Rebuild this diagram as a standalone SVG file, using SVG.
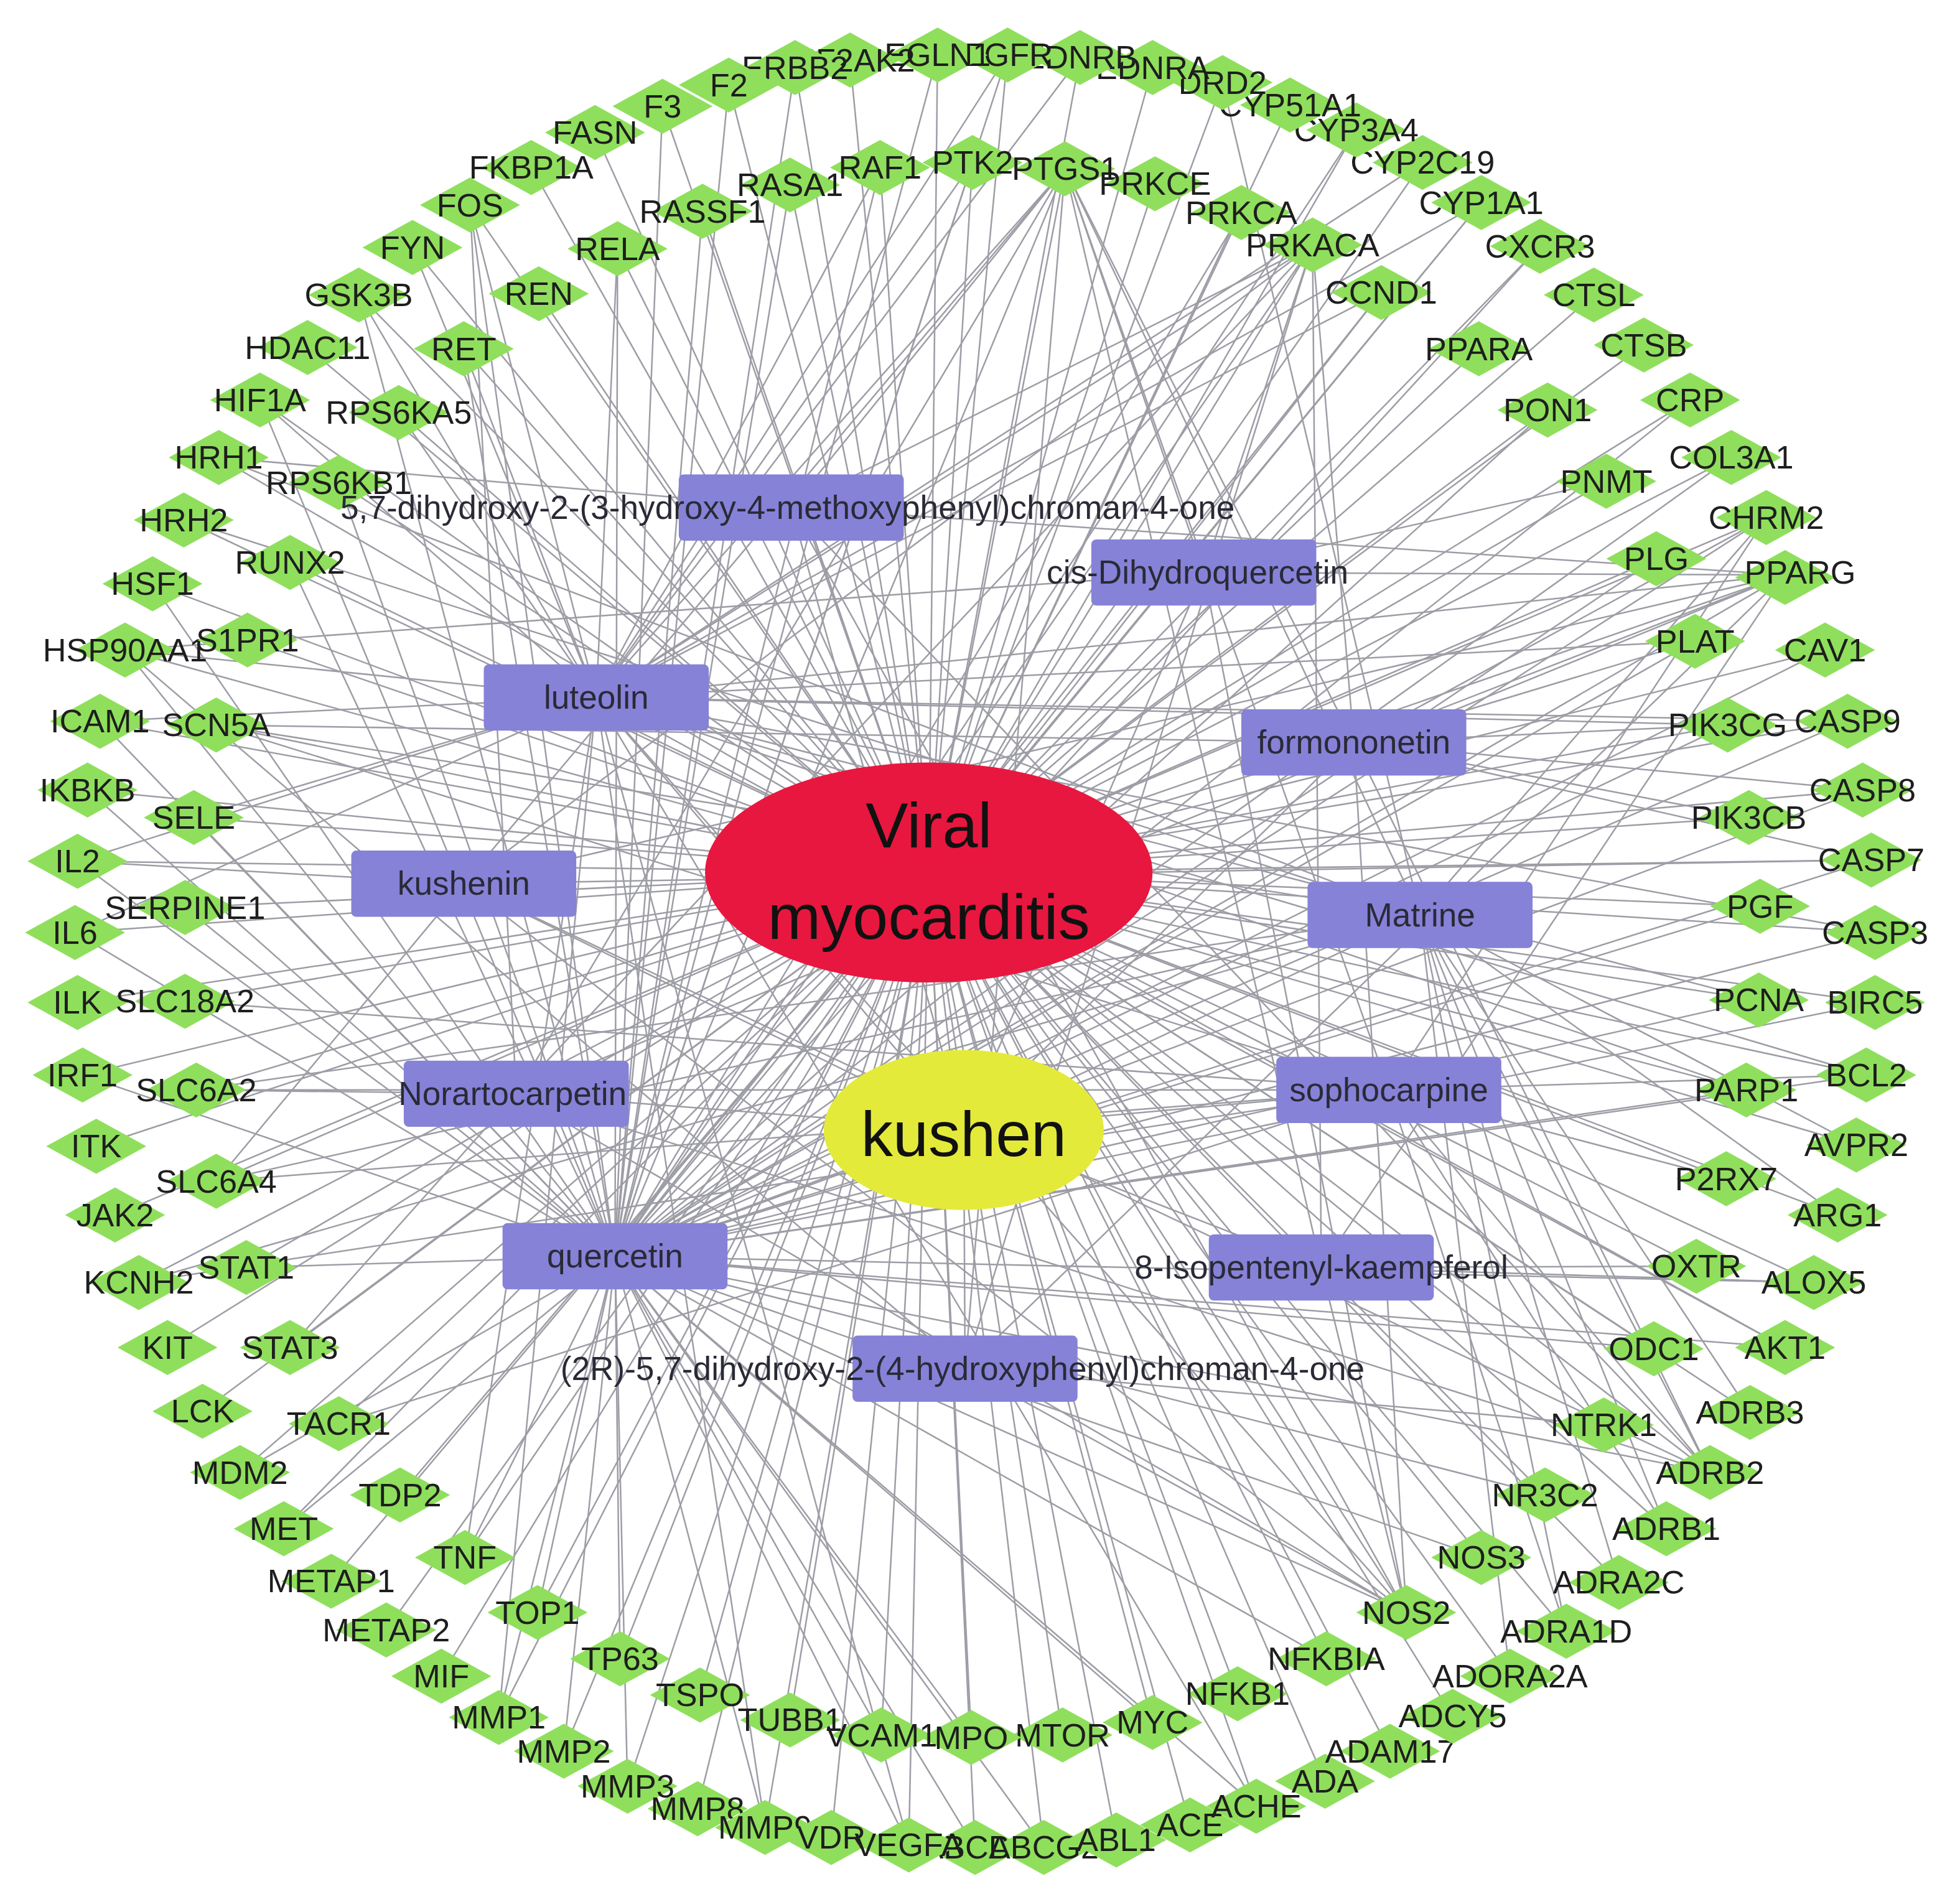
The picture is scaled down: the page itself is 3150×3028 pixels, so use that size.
<svg xmlns="http://www.w3.org/2000/svg" width="3150" height="3028" viewBox="0 0 3150 3028">
<defs>
<style>
.e line{stroke:#9d9da6;stroke-width:1.25}
.t{font-family:"Liberation Sans",Arial,sans-serif;font-size:26px;fill:#1e1e1e;text-anchor:middle}
.ct{font-family:"Liberation Sans",Arial,sans-serif;font-size:26.5px;fill:#2a2a36;text-anchor:middle}
.big{font-family:"Liberation Sans",Arial,sans-serif;font-size:51px;fill:#111;text-anchor:middle}
</style>
<polygon id="dm" points="-40,0 0,-22 40,0 0,22" fill="#8fdf5c"/>
<rect id="cr" x="-90" y="-26.5" width="180" height="53" rx="4" fill="#8682d8"/>
</defs>
<rect width="3150" height="3028" fill="#ffffff"/>
<g transform="scale(2.009)">
<g id="connectors" class="e">
<!-- kushen to compounds -->
<line x1="771" y1="903" x2="633" y2="406"/><line x1="771" y1="903" x2="963" y2="458"/><line x1="771" y1="903" x2="477" y2="558"/><line x1="771" y1="903" x2="1083" y2="594"/><line x1="771" y1="903" x2="371" y2="707"/><line x1="771" y1="903" x2="1136" y2="732"/><line x1="771" y1="903" x2="413" y2="875"/><line x1="771" y1="903" x2="1111" y2="872"/><line x1="771" y1="903" x2="492" y2="1005"/><line x1="771" y1="903" x2="1057" y2="1014"/><line x1="771" y1="903" x2="772" y2="1095"/>
<!-- disease to targets -->
<line x1="743" y1="698" x2="780" y2="1478"/><line x1="743" y1="698" x2="835" y2="1478"/><line x1="743" y1="698" x2="893" y2="1472"/><line x1="743" y1="698" x2="952" y2="1460"/><line x1="743" y1="698" x2="1005" y2="1445"/><line x1="743" y1="698" x2="1060" y2="1425"/><line x1="743" y1="698" x2="1112" y2="1401"/><line x1="743" y1="698" x2="1162" y2="1373"/><line x1="743" y1="698" x2="1208" y2="1341"/><line x1="743" y1="698" x2="1253" y2="1305"/><line x1="743" y1="698" x2="1295" y2="1266"/><line x1="743" y1="698" x2="1333" y2="1223"/><line x1="743" y1="698" x2="1368" y2="1178"/><line x1="743" y1="698" x2="1400" y2="1130"/><line x1="743" y1="698" x2="1428" y2="1078"/><line x1="743" y1="698" x2="1451" y2="1026"/><line x1="743" y1="698" x2="1470" y2="972"/><line x1="743" y1="698" x2="1485" y2="916"/><line x1="743" y1="698" x2="1493" y2="860"/><line x1="743" y1="698" x2="1500" y2="802"/><line x1="743" y1="698" x2="1500" y2="746"/><line x1="743" y1="698" x2="1497" y2="688"/><line x1="743" y1="698" x2="1490" y2="632"/><line x1="743" y1="698" x2="1478" y2="577"/><line x1="743" y1="698" x2="1460" y2="520"/><line x1="743" y1="698" x2="1428" y2="460"/><line x1="743" y1="698" x2="1413" y2="414"/><line x1="743" y1="698" x2="1385" y2="366"/><line x1="743" y1="698" x2="1352" y2="320"/><line x1="743" y1="698" x2="1315" y2="276"/><line x1="743" y1="698" x2="1275" y2="236"/><line x1="743" y1="698" x2="1232" y2="197"/><line x1="743" y1="698" x2="1185" y2="162"/><line x1="743" y1="698" x2="1138" y2="130"/><line x1="743" y1="698" x2="1085" y2="104"/><line x1="743" y1="698" x2="1032" y2="84"/><line x1="743" y1="698" x2="978" y2="66"/><line x1="743" y1="698" x2="922" y2="54"/><line x1="743" y1="698" x2="864" y2="46"/><line x1="743" y1="698" x2="806" y2="44"/><line x1="743" y1="698" x2="750" y2="44"/><line x1="743" y1="698" x2="680" y2="48"/><line x1="743" y1="698" x2="636" y2="54"/><line x1="743" y1="698" x2="583" y2="68"/><line x1="743" y1="698" x2="530" y2="85"/><line x1="743" y1="698" x2="476" y2="106"/><line x1="743" y1="698" x2="425" y2="134"/><line x1="743" y1="698" x2="376" y2="164"/><line x1="743" y1="698" x2="330" y2="198"/><line x1="743" y1="698" x2="287" y2="236"/><line x1="743" y1="698" x2="246" y2="278"/><line x1="743" y1="698" x2="208" y2="320"/><line x1="743" y1="698" x2="175" y2="366"/><line x1="743" y1="698" x2="147" y2="416"/><line x1="743" y1="698" x2="122" y2="467"/><line x1="743" y1="698" x2="100" y2="520"/><line x1="743" y1="698" x2="80" y2="577"/><line x1="743" y1="698" x2="70" y2="632"/><line x1="743" y1="698" x2="62" y2="689"/><line x1="743" y1="698" x2="60" y2="746"/><line x1="743" y1="698" x2="62" y2="802"/><line x1="743" y1="698" x2="66" y2="860"/><line x1="743" y1="698" x2="77" y2="917"/><line x1="743" y1="698" x2="92" y2="972"/><line x1="743" y1="698" x2="111" y2="1026"/><line x1="743" y1="698" x2="134" y2="1078"/><line x1="743" y1="698" x2="162" y2="1129"/><line x1="743" y1="698" x2="192" y2="1178"/><line x1="743" y1="698" x2="227" y2="1223"/><line x1="743" y1="698" x2="265" y2="1265"/><line x1="743" y1="698" x2="309" y2="1304"/><line x1="743" y1="698" x2="353" y2="1341"/><line x1="743" y1="698" x2="399" y2="1374"/><line x1="743" y1="698" x2="451" y2="1401"/><line x1="743" y1="698" x2="502" y2="1429"/><line x1="743" y1="698" x2="558" y2="1447"/><line x1="743" y1="698" x2="612" y2="1462"/><line x1="743" y1="698" x2="665" y2="1470"/><line x1="743" y1="698" x2="727" y2="1476"/>
<line x1="743" y1="698" x2="494" y2="199"/><line x1="743" y1="698" x2="562" y2="169"/><line x1="743" y1="698" x2="632" y2="148"/><line x1="743" y1="698" x2="704" y2="134"/><line x1="743" y1="698" x2="778" y2="130"/><line x1="743" y1="698" x2="852" y2="135"/><line x1="743" y1="698" x2="924" y2="147"/><line x1="743" y1="698" x2="993" y2="170"/><line x1="743" y1="698" x2="1050" y2="196"/><line x1="743" y1="698" x2="1105" y2="234"/><line x1="743" y1="698" x2="1183" y2="279"/><line x1="743" y1="698" x2="1238" y2="328"/><line x1="743" y1="698" x2="1285" y2="385"/><line x1="743" y1="698" x2="1325" y2="447"/><line x1="743" y1="698" x2="1356" y2="513"/><line x1="743" y1="698" x2="1382" y2="580"/><line x1="743" y1="698" x2="1399" y2="654"/><line x1="743" y1="698" x2="1408" y2="725"/><line x1="743" y1="698" x2="1407" y2="800"/><line x1="743" y1="698" x2="1397" y2="872"/><line x1="743" y1="698" x2="1381" y2="943"/><line x1="743" y1="698" x2="1357" y2="1013"/><line x1="743" y1="698" x2="1323" y2="1079"/><line x1="743" y1="698" x2="1283" y2="1140"/><line x1="743" y1="698" x2="1236" y2="1196"/><line x1="743" y1="698" x2="1185" y2="1246"/><line x1="743" y1="698" x2="1125" y2="1290"/><line x1="743" y1="698" x2="1061" y2="1327"/><line x1="743" y1="698" x2="990" y2="1355"/><line x1="743" y1="698" x2="922" y2="1378"/><line x1="743" y1="698" x2="850" y2="1388"/><line x1="743" y1="698" x2="777" y2="1390"/><line x1="743" y1="698" x2="705" y2="1388"/><line x1="743" y1="698" x2="632" y2="1376"/><line x1="743" y1="698" x2="560" y2="1356"/><line x1="743" y1="698" x2="496" y2="1327"/><line x1="743" y1="698" x2="430" y2="1290"/><line x1="743" y1="698" x2="372" y2="1246"/><line x1="743" y1="698" x2="320" y2="1196"/><line x1="743" y1="698" x2="271" y2="1139"/><line x1="743" y1="698" x2="232" y2="1078"/><line x1="743" y1="698" x2="197" y2="1014"/><line x1="743" y1="698" x2="173" y2="945"/><line x1="743" y1="698" x2="157" y2="872"/><line x1="743" y1="698" x2="148" y2="801"/><line x1="743" y1="698" x2="148" y2="726"/><line x1="743" y1="698" x2="155" y2="654"/><line x1="743" y1="698" x2="173" y2="580"/><line x1="743" y1="698" x2="198" y2="512"/><line x1="743" y1="698" x2="232" y2="450"/><line x1="743" y1="698" x2="271" y2="386"/><line x1="743" y1="698" x2="319" y2="330"/><line x1="743" y1="698" x2="371" y2="279"/><line x1="743" y1="698" x2="431" y2="235"/>
<!-- quercetin -->
<line x1="492" y1="1005" x2="494" y2="199"/><line x1="492" y1="1005" x2="562" y2="169"/><line x1="492" y1="1005" x2="632" y2="148"/><line x1="492" y1="1005" x2="704" y2="134"/><line x1="492" y1="1005" x2="778" y2="130"/><line x1="492" y1="1005" x2="852" y2="135"/><line x1="492" y1="1005" x2="993" y2="170"/><line x1="492" y1="1005" x2="1050" y2="196"/><line x1="492" y1="1005" x2="1105" y2="234"/><line x1="492" y1="1005" x2="1238" y2="328"/><line x1="492" y1="1005" x2="1356" y2="513"/><line x1="492" y1="1005" x2="1325" y2="447"/><line x1="492" y1="1005" x2="1382" y2="580"/><line x1="492" y1="1005" x2="1408" y2="725"/><line x1="492" y1="1005" x2="1407" y2="800"/><line x1="492" y1="1005" x2="1397" y2="872"/><line x1="492" y1="1005" x2="1323" y2="1079"/><line x1="492" y1="1005" x2="1185" y2="1246"/><line x1="492" y1="1005" x2="1125" y2="1290"/><line x1="492" y1="1005" x2="1061" y2="1327"/><line x1="492" y1="1005" x2="922" y2="1378"/><line x1="492" y1="1005" x2="777" y2="1390"/><line x1="492" y1="1005" x2="705" y2="1388"/><line x1="492" y1="1005" x2="430" y2="1290"/><line x1="492" y1="1005" x2="372" y2="1246"/><line x1="492" y1="1005" x2="496" y2="1327"/><line x1="492" y1="1005" x2="197" y2="1014"/><line x1="492" y1="1005" x2="155" y2="654"/><line x1="492" y1="1005" x2="148" y2="726"/><line x1="492" y1="1005" x2="232" y2="450"/><line x1="492" y1="1005" x2="271" y2="386"/><line x1="492" y1="1005" x2="371" y2="279"/><line x1="492" y1="1005" x2="399" y2="1374"/><line x1="492" y1="1005" x2="451" y2="1401"/><line x1="492" y1="1005" x2="502" y2="1429"/><line x1="492" y1="1005" x2="612" y2="1462"/><line x1="492" y1="1005" x2="227" y2="1223"/><line x1="492" y1="1005" x2="192" y2="1178"/><line x1="492" y1="1005" x2="62" y2="689"/><line x1="492" y1="1005" x2="60" y2="746"/><line x1="492" y1="1005" x2="80" y2="577"/><line x1="492" y1="1005" x2="70" y2="632"/><line x1="492" y1="1005" x2="66" y2="860"/><line x1="492" y1="1005" x2="208" y2="320"/><line x1="492" y1="1005" x2="122" y2="467"/><line x1="492" y1="1005" x2="287" y2="236"/><line x1="492" y1="1005" x2="376" y2="164"/><line x1="492" y1="1005" x2="530" y2="85"/><line x1="492" y1="1005" x2="583" y2="68"/><line x1="492" y1="1005" x2="636" y2="54"/><line x1="492" y1="1005" x2="806" y2="44"/><line x1="492" y1="1005" x2="1185" y2="162"/><line x1="492" y1="1005" x2="1085" y2="104"/><line x1="492" y1="1005" x2="1232" y2="197"/><line x1="492" y1="1005" x2="1352" y2="320"/><line x1="492" y1="1005" x2="1385" y2="366"/><line x1="492" y1="1005" x2="1500" y2="746"/><line x1="492" y1="1005" x2="1497" y2="688"/><line x1="492" y1="1005" x2="1490" y2="632"/><line x1="492" y1="1005" x2="1478" y2="577"/><line x1="492" y1="1005" x2="1460" y2="520"/><line x1="492" y1="1005" x2="1493" y2="860"/><line x1="492" y1="1005" x2="1500" y2="802"/><line x1="492" y1="1005" x2="1428" y2="1078"/><line x1="492" y1="1005" x2="1451" y2="1026"/><line x1="492" y1="1005" x2="1005" y2="1445"/><line x1="492" y1="1005" x2="835" y2="1478"/><line x1="492" y1="1005" x2="727" y2="1476"/><line x1="492" y1="1005" x2="1428" y2="460"/><line x1="492" y1="1005" x2="1413" y2="414"/><line x1="492" y1="1005" x2="1368" y2="1178"/><line x1="492" y1="1005" x2="1236" y2="1196"/><line x1="492" y1="1005" x2="100" y2="520"/><line x1="492" y1="1005" x2="750" y2="44"/><line x1="492" y1="1005" x2="780" y2="1478"/>
<!-- luteolin -->
<line x1="477" y1="558" x2="852" y2="135"/><line x1="477" y1="558" x2="1428" y2="460"/><line x1="477" y1="558" x2="494" y2="199"/><line x1="477" y1="558" x2="60" y2="746"/><line x1="477" y1="558" x2="372" y2="1246"/><line x1="477" y1="558" x2="727" y2="1476"/><line x1="477" y1="558" x2="612" y2="1462"/><line x1="477" y1="558" x2="399" y2="1374"/><line x1="477" y1="558" x2="80" y2="577"/><line x1="477" y1="558" x2="1428" y2="1078"/><line x1="477" y1="558" x2="1500" y2="746"/><line x1="477" y1="558" x2="1478" y2="577"/><line x1="477" y1="558" x2="1493" y2="860"/><line x1="477" y1="558" x2="1005" y2="1445"/><line x1="477" y1="558" x2="1185" y2="162"/><line x1="477" y1="558" x2="100" y2="520"/><line x1="477" y1="558" x2="1382" y2="580"/><line x1="477" y1="558" x2="1050" y2="196"/><line x1="477" y1="558" x2="1125" y2="1290"/><line x1="477" y1="558" x2="1105" y2="234"/><line x1="477" y1="558" x2="806" y2="44"/><line x1="477" y1="558" x2="376" y2="164"/><line x1="477" y1="558" x2="287" y2="236"/><line x1="477" y1="558" x2="371" y2="279"/><line x1="477" y1="558" x2="208" y2="320"/><line x1="477" y1="558" x2="319" y2="330"/><line x1="477" y1="558" x2="155" y2="654"/><line x1="477" y1="558" x2="62" y2="689"/><line x1="477" y1="558" x2="1356" y2="513"/><line x1="477" y1="558" x2="1407" y2="800"/><line x1="477" y1="558" x2="1397" y2="872"/><line x1="477" y1="558" x2="778" y2="130"/><line x1="477" y1="558" x2="704" y2="134"/><line x1="477" y1="558" x2="864" y2="46"/><line x1="477" y1="558" x2="1138" y2="130"/><line x1="477" y1="558" x2="330" y2="198"/>
<!-- Matrine -->
<line x1="1136" y1="732" x2="1413" y2="414"/><line x1="1136" y1="732" x2="1333" y2="1223"/><line x1="1136" y1="732" x2="1368" y2="1178"/><line x1="1136" y1="732" x2="1253" y2="1305"/><line x1="1136" y1="732" x2="1295" y2="1266"/><line x1="1136" y1="732" x2="175" y2="366"/><line x1="1136" y1="732" x2="147" y2="416"/><line x1="1136" y1="732" x2="173" y2="580"/><line x1="1136" y1="732" x2="111" y2="1026"/><line x1="1136" y1="732" x2="157" y2="872"/><line x1="1136" y1="732" x2="173" y2="945"/><line x1="1136" y1="732" x2="978" y2="66"/><line x1="1136" y1="732" x2="852" y2="135"/><line x1="1136" y1="732" x2="1485" y2="916"/><line x1="1136" y1="732" x2="1208" y2="1341"/><line x1="1136" y1="732" x2="1400" y2="1130"/><line x1="1136" y1="732" x2="1470" y2="972"/>
<!-- sophocarpine -->
<line x1="1111" y1="872" x2="1413" y2="414"/><line x1="1111" y1="872" x2="1368" y2="1178"/><line x1="1111" y1="872" x2="1253" y2="1305"/><line x1="1111" y1="872" x2="173" y2="580"/><line x1="1111" y1="872" x2="111" y2="1026"/><line x1="1111" y1="872" x2="173" y2="945"/><line x1="1111" y1="872" x2="157" y2="872"/><line x1="1111" y1="872" x2="852" y2="135"/><line x1="1111" y1="872" x2="148" y2="801"/><line x1="1111" y1="872" x2="1333" y2="1223"/><line x1="1111" y1="872" x2="271" y2="1139"/><line x1="1111" y1="872" x2="1381" y2="943"/><line x1="1111" y1="872" x2="1493" y2="860"/>
<!-- formononetin -->
<line x1="1083" y1="594" x2="852" y2="135"/><line x1="1083" y1="594" x2="1428" y2="460"/><line x1="1083" y1="594" x2="1050" y2="196"/><line x1="1083" y1="594" x2="1125" y2="1290"/><line x1="1083" y1="594" x2="1368" y2="1178"/><line x1="1083" y1="594" x2="1413" y2="414"/><line x1="1083" y1="594" x2="1382" y2="580"/><line x1="1083" y1="594" x2="173" y2="580"/><line x1="1083" y1="594" x2="1497" y2="688"/><line x1="1083" y1="594" x2="1399" y2="654"/><line x1="1083" y1="594" x2="1490" y2="632"/>
<!-- kushenin -->
<line x1="371" y1="707" x2="852" y2="135"/><line x1="371" y1="707" x2="1428" y2="460"/><line x1="371" y1="707" x2="1050" y2="196"/><line x1="371" y1="707" x2="1125" y2="1290"/><line x1="371" y1="707" x2="1368" y2="1178"/><line x1="371" y1="707" x2="173" y2="945"/><line x1="371" y1="707" x2="62" y2="689"/><line x1="371" y1="707" x2="1497" y2="688"/>
<!-- Norartocarpetin -->
<line x1="413" y1="875" x2="852" y2="135"/><line x1="413" y1="875" x2="1428" y2="460"/><line x1="413" y1="875" x2="1125" y2="1290"/><line x1="413" y1="875" x2="1050" y2="196"/><line x1="413" y1="875" x2="376" y2="164"/><line x1="413" y1="875" x2="1368" y2="1178"/><line x1="413" y1="875" x2="157" y2="872"/><line x1="413" y1="875" x2="232" y2="1078"/>
<!-- 5,7-dihydroxy-2-(3-hydroxy-4-methoxyphenyl)chroman-4-one -->
<line x1="633" y1="406" x2="852" y2="135"/><line x1="633" y1="406" x2="1428" y2="460"/><line x1="633" y1="406" x2="1050" y2="196"/><line x1="633" y1="406" x2="1125" y2="1290"/><line x1="633" y1="406" x2="1368" y2="1178"/><line x1="633" y1="406" x2="175" y2="366"/>
<!-- cis-Dihydroquercetin -->
<line x1="963" y1="458" x2="852" y2="135"/><line x1="963" y1="458" x2="1428" y2="460"/><line x1="963" y1="458" x2="1125" y2="1290"/><line x1="963" y1="458" x2="1050" y2="196"/><line x1="963" y1="458" x2="100" y2="520"/><line x1="963" y1="458" x2="1285" y2="385"/>
<!-- 8-Isopentenyl-kaempferol -->
<line x1="1057" y1="1014" x2="852" y2="135"/><line x1="1057" y1="1014" x2="1428" y2="460"/><line x1="1057" y1="1014" x2="1050" y2="196"/><line x1="1057" y1="1014" x2="1125" y2="1290"/><line x1="1057" y1="1014" x2="1451" y2="1026"/><line x1="1057" y1="1014" x2="1357" y2="1013"/>
<!-- (2R)-5,7-dihydroxy-2-(4-hydroxyphenyl)chroman-4-one -->
<line x1="772" y1="1095" x2="852" y2="135"/><line x1="772" y1="1095" x2="1428" y2="460"/><line x1="772" y1="1095" x2="1050" y2="196"/><line x1="772" y1="1095" x2="1125" y2="1290"/><line x1="772" y1="1095" x2="100" y2="520"/><line x1="772" y1="1095" x2="1283" y2="1140"/>
</g>
<g id="targets">
<g id="n-ABCB1"><use href="#dm" x="780" y="1478"/><text class="t" x="780" y="1487">ABCB1</text></g>
<g id="n-ABCG2"><use href="#dm" x="835" y="1478"/><text class="t" x="835" y="1487">ABCG2</text></g>
<g id="n-ABL1"><use href="#dm" x="893" y="1472"/><text class="t" x="893" y="1481">ABL1</text></g>
<g id="n-ACE"><use href="#dm" x="952" y="1460"/><text class="t" x="952" y="1469">ACE</text></g>
<g id="n-ACHE"><use href="#dm" x="1005" y="1445"/><text class="t" x="1005" y="1454">ACHE</text></g>
<g id="n-ADA"><use href="#dm" x="1060" y="1425"/><text class="t" x="1060" y="1434">ADA</text></g>
<g id="n-ADAM17"><use href="#dm" x="1112" y="1401"/><text class="t" x="1112" y="1410">ADAM17</text></g>
<g id="n-ADCY5"><use href="#dm" x="1162" y="1373"/><text class="t" x="1162" y="1382">ADCY5</text></g>
<g id="n-ADORA2A"><use href="#dm" x="1208" y="1341"/><text class="t" x="1208" y="1350">ADORA2A</text></g>
<g id="n-ADRA1D"><use href="#dm" x="1253" y="1305"/><text class="t" x="1253" y="1314">ADRA1D</text></g>
<g id="n-ADRA2C"><use href="#dm" x="1295" y="1266"/><text class="t" x="1295" y="1275">ADRA2C</text></g>
<g id="n-ADRB1"><use href="#dm" x="1333" y="1223"/><text class="t" x="1333" y="1232">ADRB1</text></g>
<g id="n-ADRB2"><use href="#dm" x="1368" y="1178"/><text class="t" x="1368" y="1187">ADRB2</text></g>
<g id="n-ADRB3"><use href="#dm" x="1400" y="1130"/><text class="t" x="1400" y="1139">ADRB3</text></g>
<g id="n-AKT1"><use href="#dm" x="1428" y="1078"/><text class="t" x="1428" y="1087">AKT1</text></g>
<g id="n-ALOX5"><use href="#dm" x="1451" y="1026"/><text class="t" x="1451" y="1035">ALOX5</text></g>
<g id="n-ARG1"><use href="#dm" x="1470" y="972"/><text class="t" x="1470" y="981">ARG1</text></g>
<g id="n-AVPR2"><use href="#dm" x="1485" y="916"/><text class="t" x="1485" y="925">AVPR2</text></g>
<g id="n-BCL2"><use href="#dm" x="1493" y="860"/><text class="t" x="1493" y="869">BCL2</text></g>
<g id="n-BIRC5"><use href="#dm" x="1500" y="802"/><text class="t" x="1500" y="811">BIRC5</text></g>
<g id="n-CASP3"><use href="#dm" x="1500" y="746"/><text class="t" x="1500" y="755">CASP3</text></g>
<g id="n-CASP7"><use href="#dm" x="1497" y="688"/><text class="t" x="1497" y="697">CASP7</text></g>
<g id="n-CASP8"><use href="#dm" x="1490" y="632"/><text class="t" x="1490" y="641">CASP8</text></g>
<g id="n-CASP9"><use href="#dm" x="1478" y="577"/><text class="t" x="1478" y="586">CASP9</text></g>
<g id="n-CAV1"><use href="#dm" x="1460" y="520"/><text class="t" x="1460" y="529">CAV1</text></g>
<g id="n-PPARG"><use href="#dm" x="1428" y="462"/><text class="t" x="1440" y="467">PPARG</text></g>
<g id="n-CHRM2"><use href="#dm" x="1413" y="414"/><text class="t" x="1413" y="423">CHRM2</text></g>
<g id="n-COL3A1"><use href="#dm" x="1385" y="366"/><text class="t" x="1385" y="375">COL3A1</text></g>
<g id="n-CRP"><use href="#dm" x="1352" y="320"/><text class="t" x="1352" y="329">CRP</text></g>
<g id="n-CTSB"><use href="#dm" x="1315" y="276"/><text class="t" x="1315" y="285">CTSB</text></g>
<g id="n-CTSL"><use href="#dm" x="1275" y="236"/><text class="t" x="1275" y="245">CTSL</text></g>
<g id="n-CXCR3"><use href="#dm" x="1232" y="197"/><text class="t" x="1232" y="206">CXCR3</text></g>
<g id="n-CYP1A1"><use href="#dm" x="1185" y="162"/><text class="t" x="1185" y="171">CYP1A1</text></g>
<g id="n-CYP2C19"><use href="#dm" x="1138" y="130"/><text class="t" x="1138" y="139">CYP2C19</text></g>
<g id="n-CYP3A4"><use href="#dm" x="1085" y="104"/><text class="t" x="1085" y="113">CYP3A4</text></g>
<g id="n-CYP51A1"><use href="#dm" x="1032" y="84"/><text class="t" x="1032" y="93">CYP51A1</text></g>
<g id="n-DRD2"><use href="#dm" x="978" y="66"/><text class="t" x="978" y="75">DRD2</text></g>
<g id="n-EDNRA"><use href="#dm" x="922" y="54"/><text class="t" x="922" y="63">EDNRA</text></g>
<g id="n-EDNRB"><use href="#dm" x="864" y="46"/><text class="t" x="864" y="55">EDNRB</text></g>
<g id="n-EGFR"><use href="#dm" x="806" y="44"/><text class="t" x="806" y="53">EGFR</text></g>
<g id="n-EGLN1"><use href="#dm" x="750" y="44"/><text class="t" x="750" y="53">EGLN1</text></g>
<g id="n-EIF2AK2"><use href="#dm" x="680" y="48"/><text class="t" x="680" y="57">EIF2AK2</text></g>
<g id="n-ERBB2"><use href="#dm" x="636" y="54"/><text class="t" x="636" y="63">ERBB2</text></g>
<g id="n-F2"><use href="#dm" x="583" y="68"/><text class="t" x="583" y="77">F2</text></g>
<g id="n-F3"><use href="#dm" x="530" y="85"/><text class="t" x="530" y="94">F3</text></g>
<g id="n-FASN"><use href="#dm" x="476" y="106"/><text class="t" x="476" y="115">FASN</text></g>
<g id="n-FKBP1A"><use href="#dm" x="425" y="134"/><text class="t" x="425" y="143">FKBP1A</text></g>
<g id="n-FOS"><use href="#dm" x="376" y="164"/><text class="t" x="376" y="173">FOS</text></g>
<g id="n-FYN"><use href="#dm" x="330" y="198"/><text class="t" x="330" y="207">FYN</text></g>
<g id="n-GSK3B"><use href="#dm" x="287" y="236"/><text class="t" x="287" y="245">GSK3B</text></g>
<g id="n-HDAC11"><use href="#dm" x="246" y="278"/><text class="t" x="246" y="287">HDAC11</text></g>
<g id="n-HIF1A"><use href="#dm" x="208" y="320"/><text class="t" x="208" y="329">HIF1A</text></g>
<g id="n-HRH1"><use href="#dm" x="175" y="366"/><text class="t" x="175" y="375">HRH1</text></g>
<g id="n-HRH2"><use href="#dm" x="147" y="416"/><text class="t" x="147" y="425">HRH2</text></g>
<g id="n-HSF1"><use href="#dm" x="122" y="467"/><text class="t" x="122" y="476">HSF1</text></g>
<g id="n-HSP90AA1"><use href="#dm" x="100" y="520"/><text class="t" x="100" y="529">HSP90AA1</text></g>
<g id="n-ICAM1"><use href="#dm" x="80" y="577"/><text class="t" x="80" y="586">ICAM1</text></g>
<g id="n-IKBKB"><use href="#dm" x="70" y="632"/><text class="t" x="70" y="641">IKBKB</text></g>
<g id="n-IL2"><use href="#dm" x="62" y="689"/><text class="t" x="62" y="698">IL2</text></g>
<g id="n-IL6"><use href="#dm" x="60" y="746"/><text class="t" x="60" y="755">IL6</text></g>
<g id="n-ILK"><use href="#dm" x="62" y="802"/><text class="t" x="62" y="811">ILK</text></g>
<g id="n-IRF1"><use href="#dm" x="66" y="860"/><text class="t" x="66" y="869">IRF1</text></g>
<g id="n-ITK"><use href="#dm" x="77" y="917"/><text class="t" x="77" y="926">ITK</text></g>
<g id="n-JAK2"><use href="#dm" x="92" y="972"/><text class="t" x="92" y="981">JAK2</text></g>
<g id="n-KCNH2"><use href="#dm" x="111" y="1026"/><text class="t" x="111" y="1035">KCNH2</text></g>
<g id="n-KIT"><use href="#dm" x="134" y="1078"/><text class="t" x="134" y="1087">KIT</text></g>
<g id="n-LCK"><use href="#dm" x="162" y="1129"/><text class="t" x="162" y="1138">LCK</text></g>
<g id="n-MDM2"><use href="#dm" x="192" y="1178"/><text class="t" x="192" y="1187">MDM2</text></g>
<g id="n-MET"><use href="#dm" x="227" y="1223"/><text class="t" x="227" y="1232">MET</text></g>
<g id="n-METAP1"><use href="#dm" x="265" y="1265"/><text class="t" x="265" y="1274">METAP1</text></g>
<g id="n-METAP2"><use href="#dm" x="309" y="1304"/><text class="t" x="309" y="1313">METAP2</text></g>
<g id="n-MIF"><use href="#dm" x="353" y="1341"/><text class="t" x="353" y="1350">MIF</text></g>
<g id="n-MMP1"><use href="#dm" x="399" y="1374"/><text class="t" x="399" y="1383">MMP1</text></g>
<g id="n-MMP2"><use href="#dm" x="451" y="1401"/><text class="t" x="451" y="1410">MMP2</text></g>
<g id="n-MMP3"><use href="#dm" x="502" y="1429"/><text class="t" x="502" y="1438">MMP3</text></g>
<g id="n-MMP8"><use href="#dm" x="558" y="1447"/><text class="t" x="558" y="1456">MMP8</text></g>
<g id="n-MMP9"><use href="#dm" x="612" y="1462"/><text class="t" x="612" y="1471">MMP9</text></g>
<g id="n-VDR"><use href="#dm" x="665" y="1470"/><text class="t" x="665" y="1479">VDR</text></g>
<g id="n-VEGFA"><use href="#dm" x="727" y="1476"/><text class="t" x="727" y="1485">VEGFA</text></g>
<g id="n-RELA"><use href="#dm" x="494" y="199"/><text class="t" x="494" y="208">RELA</text></g>
<g id="n-RASSF1"><use href="#dm" x="562" y="169"/><text class="t" x="562" y="178">RASSF1</text></g>
<g id="n-RASA1"><use href="#dm" x="632" y="148"/><text class="t" x="632" y="157">RASA1</text></g>
<g id="n-RAF1"><use href="#dm" x="704" y="134"/><text class="t" x="704" y="143">RAF1</text></g>
<g id="n-PTK2"><use href="#dm" x="778" y="130"/><text class="t" x="778" y="139">PTK2</text></g>
<g id="n-PTGS1"><use href="#dm" x="852" y="135"/><text class="t" x="852" y="144">PTGS1</text></g>
<g id="n-PRKCE"><use href="#dm" x="924" y="147"/><text class="t" x="924" y="156">PRKCE</text></g>
<g id="n-PRKCA"><use href="#dm" x="993" y="170"/><text class="t" x="993" y="179">PRKCA</text></g>
<g id="n-PRKACA"><use href="#dm" x="1050" y="196"/><text class="t" x="1050" y="205">PRKACA</text></g>
<g id="n-CCND1"><use href="#dm" x="1105" y="234"/><text class="t" x="1105" y="243">CCND1</text></g>
<g id="n-PPARA"><use href="#dm" x="1183" y="279"/><text class="t" x="1183" y="288">PPARA</text></g>
<g id="n-PON1"><use href="#dm" x="1238" y="328"/><text class="t" x="1238" y="337">PON1</text></g>
<g id="n-PNMT"><use href="#dm" x="1285" y="385"/><text class="t" x="1285" y="394">PNMT</text></g>
<g id="n-PLG"><use href="#dm" x="1325" y="447"/><text class="t" x="1325" y="456">PLG</text></g>
<g id="n-PLAT"><use href="#dm" x="1356" y="513"/><text class="t" x="1356" y="522">PLAT</text></g>
<g id="n-PIK3CG"><use href="#dm" x="1382" y="580"/><text class="t" x="1382" y="589">PIK3CG</text></g>
<g id="n-PIK3CB"><use href="#dm" x="1399" y="654"/><text class="t" x="1399" y="663">PIK3CB</text></g>
<g id="n-PGF"><use href="#dm" x="1408" y="725"/><text class="t" x="1408" y="734">PGF</text></g>
<g id="n-PCNA"><use href="#dm" x="1407" y="800"/><text class="t" x="1407" y="809">PCNA</text></g>
<g id="n-PARP1"><use href="#dm" x="1397" y="872"/><text class="t" x="1397" y="881">PARP1</text></g>
<g id="n-P2RX7"><use href="#dm" x="1381" y="943"/><text class="t" x="1381" y="952">P2RX7</text></g>
<g id="n-OXTR"><use href="#dm" x="1357" y="1013"/><text class="t" x="1357" y="1022">OXTR</text></g>
<g id="n-ODC1"><use href="#dm" x="1323" y="1079"/><text class="t" x="1323" y="1088">ODC1</text></g>
<g id="n-NTRK1"><use href="#dm" x="1283" y="1140"/><text class="t" x="1283" y="1149">NTRK1</text></g>
<g id="n-NR3C2"><use href="#dm" x="1236" y="1196"/><text class="t" x="1236" y="1205">NR3C2</text></g>
<g id="n-NOS3"><use href="#dm" x="1185" y="1246"/><text class="t" x="1185" y="1255">NOS3</text></g>
<g id="n-NOS2"><use href="#dm" x="1125" y="1290"/><text class="t" x="1125" y="1299">NOS2</text></g>
<g id="n-NFKBIA"><use href="#dm" x="1061" y="1327"/><text class="t" x="1061" y="1336">NFKBIA</text></g>
<g id="n-NFKB1"><use href="#dm" x="990" y="1355"/><text class="t" x="990" y="1364">NFKB1</text></g>
<g id="n-MYC"><use href="#dm" x="922" y="1378"/><text class="t" x="922" y="1387">MYC</text></g>
<g id="n-MTOR"><use href="#dm" x="850" y="1388"/><text class="t" x="850" y="1397">MTOR</text></g>
<g id="n-MPO"><use href="#dm" x="777" y="1390"/><text class="t" x="777" y="1399">MPO</text></g>
<g id="n-VCAM1"><use href="#dm" x="705" y="1388"/><text class="t" x="705" y="1397">VCAM1</text></g>
<g id="n-TUBB1"><use href="#dm" x="632" y="1376"/><text class="t" x="632" y="1385">TUBB1</text></g>
<g id="n-TSPO"><use href="#dm" x="560" y="1356"/><text class="t" x="560" y="1365">TSPO</text></g>
<g id="n-TP63"><use href="#dm" x="496" y="1327"/><text class="t" x="496" y="1336">TP63</text></g>
<g id="n-TOP1"><use href="#dm" x="430" y="1290"/><text class="t" x="430" y="1299">TOP1</text></g>
<g id="n-TNF"><use href="#dm" x="372" y="1246"/><text class="t" x="372" y="1255">TNF</text></g>
<g id="n-TDP2"><use href="#dm" x="320" y="1196"/><text class="t" x="320" y="1205">TDP2</text></g>
<g id="n-TACR1"><use href="#dm" x="271" y="1139"/><text class="t" x="271" y="1148">TACR1</text></g>
<g id="n-STAT3"><use href="#dm" x="232" y="1078"/><text class="t" x="232" y="1087">STAT3</text></g>
<g id="n-STAT1"><use href="#dm" x="197" y="1014"/><text class="t" x="197" y="1023">STAT1</text></g>
<g id="n-SLC6A4"><use href="#dm" x="173" y="945"/><text class="t" x="173" y="954">SLC6A4</text></g>
<g id="n-SLC6A2"><use href="#dm" x="157" y="872"/><text class="t" x="157" y="881">SLC6A2</text></g>
<g id="n-SLC18A2"><use href="#dm" x="148" y="801"/><text class="t" x="148" y="810">SLC18A2</text></g>
<g id="n-SERPINE1"><use href="#dm" x="148" y="726"/><text class="t" x="148" y="735">SERPINE1</text></g>
<g id="n-SELE"><use href="#dm" x="155" y="654"/><text class="t" x="155" y="663">SELE</text></g>
<g id="n-SCN5A"><use href="#dm" x="173" y="580"/><text class="t" x="173" y="589">SCN5A</text></g>
<g id="n-S1PR1"><use href="#dm" x="198" y="512"/><text class="t" x="198" y="521">S1PR1</text></g>
<g id="n-RUNX2"><use href="#dm" x="232" y="450"/><text class="t" x="232" y="459">RUNX2</text></g>
<g id="n-RPS6KB1"><use href="#dm" x="271" y="386"/><text class="t" x="271" y="395">RPS6KB1</text></g>
<g id="n-RPS6KA5"><use href="#dm" x="319" y="330"/><text class="t" x="319" y="339">RPS6KA5</text></g>
<g id="n-RET"><use href="#dm" x="371" y="279"/><text class="t" x="371" y="288">RET</text></g>
<g id="n-REN"><use href="#dm" x="431" y="235"/><text class="t" x="431" y="244">REN</text></g>
</g>
<g id="compounds">
<g id="c-dihydroxy-methoxyphenyl"><use href="#cr" x="633" y="406"/><text class="ct" x="630" y="415">5,7-dihydroxy-2-(3-hydroxy-4-methoxyphenyl)chroman-4-one</text></g>
<g id="c-cis-Dihydroquercetin"><use href="#cr" x="963" y="458"/><text class="ct" x="958" y="467">cis-Dihydroquercetin</text></g>
<g id="c-luteolin"><use href="#cr" x="477" y="558"/><text class="ct" x="477" y="567">luteolin</text></g>
<g id="c-formononetin"><use href="#cr" x="1083" y="594"/><text class="ct" x="1083" y="603">formononetin</text></g>
<g id="c-kushenin"><use href="#cr" x="371" y="707"/><text class="ct" x="371" y="716">kushenin</text></g>
<g id="c-Matrine"><use href="#cr" x="1136" y="732"/><text class="ct" x="1136" y="741">Matrine</text></g>
<g id="c-Norartocarpetin"><use href="#cr" x="413" y="875"/><text class="ct" x="410" y="884">Norartocarpetin</text></g>
<g id="c-sophocarpine"><use href="#cr" x="1111" y="872"/><text class="ct" x="1111" y="881">sophocarpine</text></g>
<g id="c-quercetin"><use href="#cr" x="492" y="1005"/><text class="ct" x="492" y="1014">quercetin</text></g>
<g id="c-8-Isopentenyl-kaempferol"><use href="#cr" x="1057" y="1014"/><text class="ct" x="1057" y="1023">8-Isopentenyl-kaempferol</text></g>
<g id="c-dihydroxy-hydroxyphenyl"><use href="#cr" x="772" y="1095"/><text class="ct" x="770" y="1104">(2R)-5,7-dihydroxy-2-(4-hydroxyphenyl)chroman-4-one</text></g>
</g>
<g id="n-disease"><ellipse cx="743" cy="698" rx="179" ry="88" fill="#e8173f"/><text class="big" x="743" y="678">Viral</text><text class="big" x="743" y="751">myocarditis</text></g>
<g id="n-kushen"><ellipse cx="771" cy="904" rx="112" ry="64" fill="#e4ea3a"/><text class="big" x="771" y="925">kushen</text></g>
</g>
</svg>
